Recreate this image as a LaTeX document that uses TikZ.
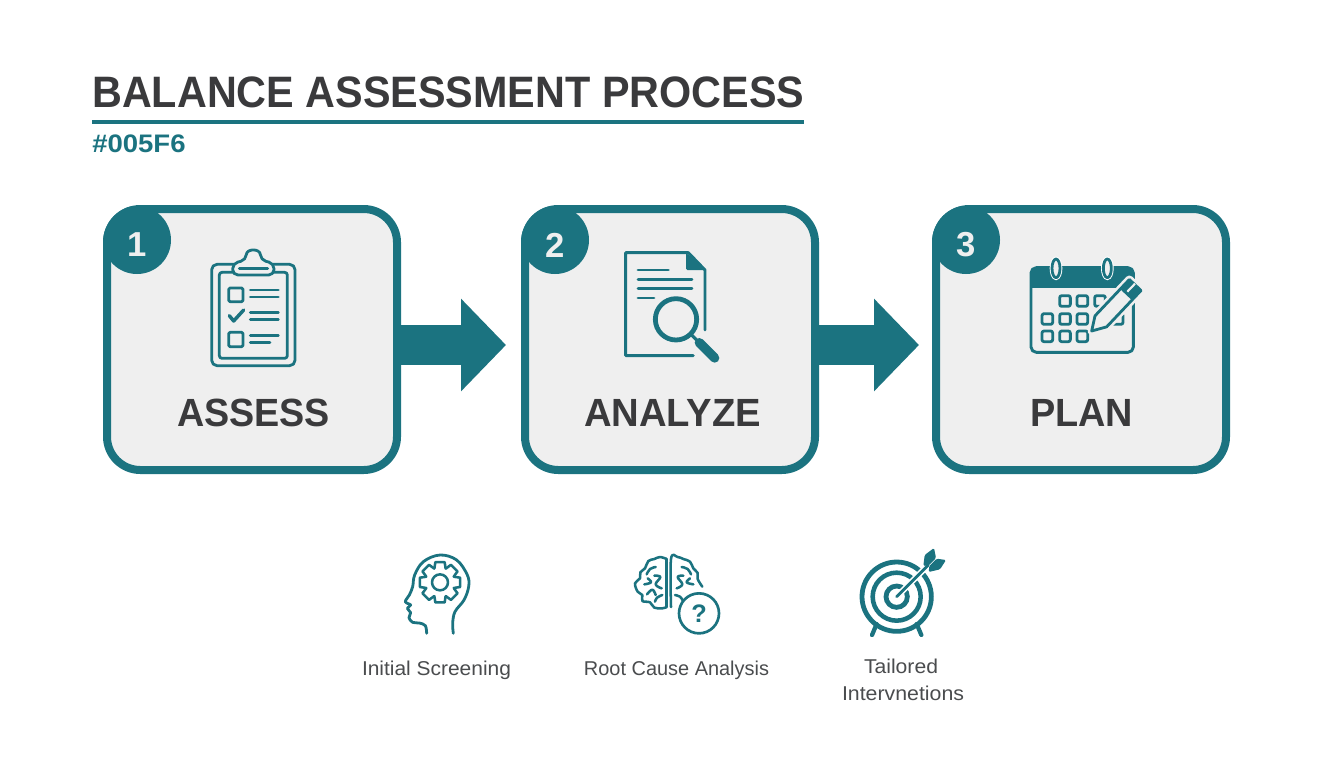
\documentclass[tikz,border=0pt]{standalone}
\usepackage{fontspec}
\setmainfont{Liberation Sans}
\usetikzlibrary{arrows.meta,calc}
\definecolor{tealc}{HTML}{1B7380}
\definecolor{inkc}{HTML}{3A3A3C}
\definecolor{cardc}{HTML}{EFEFEF}
\definecolor{graytext}{HTML}{4A4C4E}
\newcommand{\fit}[2]{\resizebox{#1}{\height}{#2}}
\tikzset{
  cardbox/.style={draw=tealc,fill=cardc,line width=6pt,rounded corners=25pt,minimum width=217.5pt,minimum height=195.75pt,inner sep=0pt},
  badge/.style={circle,fill=tealc,minimum size=51pt,inner sep=0pt},
  badgenum/.style={text=cardc,inner sep=0pt,font=\bfseries\fontsize{26}{26}\selectfont},
  cardlabel/.style={text=inkc,inner sep=0pt,font=\bfseries\fontsize{29.5}{30}\selectfont},
  sublabel/.style={text=graytext,inner sep=0pt,font=\fontsize{15}{16}\selectfont},
  flow/.style={draw=tealc,line width=30pt,-{Triangle[length=33.75pt,width=67.5pt,fill=tealc]}},
  ico/.style={draw=tealc,line width=2.1pt,line cap=round,line join=round},
  thinico/.style={draw=tealc,line width=1.9pt,line cap=round,line join=round},
  zoomed/.style={x=.25pt,y=-.25pt}
}
\begin{document}
\begin{tikzpicture}[x=.75pt,y=-.75pt]
\useasboundingbox[fill=white] (0,0) rectangle (1344,768);

% heading
\node[anchor=west,text=inkc,inner sep=0pt,font=\bfseries\fontsize{33}{34}\selectfont] (title) at (92,92) {\fit{534pt}{BALANCE ASSESSMENT PROCESS}};
\coordinate (ruleL) at (92,122);
\coordinate (ruleR) at (804,122);
\draw[tealc,line width=2.4pt] (ruleL) -- (ruleR);
\node[anchor=west,text=tealc,inner sep=0pt,font=\bfseries\fontsize{19}{20}\selectfont] (code) at (92,144) {\fit{70pt}{\#005F6}};

% cards
\node[cardbox] (box1) at (252,339.5) {};
\node[cardbox] (box2) at (670,339.5) {};
\node[cardbox] (box3) at (1081,339.5) {};

% badges
\begin{scope}
\clip[rounded corners=28pt] (box1.south west) rectangle (box1.north east);
\node[badge] (b1) at (137,240) {};
\end{scope}
\begin{scope}
\clip[rounded corners=28pt] (box2.south west) rectangle (box2.north east);
\node[badge] (b2) at (555,240) {};
\end{scope}
\begin{scope}
\clip[rounded corners=28pt] (box3.south west) rectangle (box3.north east);
\node[badge] (b3) at (966,240) {};
\end{scope}
\node[badgenum] (n1) at (137,245) {1};
\node[badgenum] (n2) at (555,245) {2};
\node[badgenum] (n3) at (966,245) {3};

% card labels
\node[cardlabel] (l1) at (253.5,412.5) {\fit{114.75pt}{ASSESS}};
\node[cardlabel] (l2) at (672.5,412.5) {\fit{132.75pt}{ANALYZE}};
\node[cardlabel] (l3) at (1081.5,412.5) {\fit{77.25pt}{PLAN}};

% flow arrows
\draw[flow,shorten >=11.25pt] ($(box1.east)+(0,5.5)$) -- ($(box2.west)+(0,5.5)$);
\draw[flow,shorten >=9.75pt] ($(box2.east)+(0,5.5)$) -- ($(box3.west)+(0,5.5)$);

% clipboard icon
\begin{scope}[shift={(90,195)},zoomed]
\draw[ico,rounded corners=4pt] (365,208) rectangle (615,512);
\draw[ico,rounded corners=2pt] (388,232) rectangle (592,490);
\draw[ico,fill=cardc,rounded corners=4pt] (428,240) -- (428,205) -- (468,195) .. controls (470,160) and (510,160) .. (512,195) -- (552,205) -- (552,240) -- cycle;
\draw[ico] (448,220) -- (533,220);
\draw[ico,rounded corners=1pt] (416,279) rectangle (459,320);
\draw[ico] (481,285) -- (565,285) (481,306) -- (565,306);
\draw[ico,line width=2.6pt] (418,362) -- (431,378) -- (461,345);
\draw[ico] (481,352) -- (565,352) (481,374) -- (565,374);
\draw[ico,rounded corners=1pt] (416,412) rectangle (459,455);
\draw[ico] (481,422) -- (565,422) (481,443) -- (540,443);
\end{scope}

% document icon
\begin{scope}[shift={(610,240)},zoomed]
\draw[ico,line width=2.2pt] (285,270) -- (285,90) -- (235,38) -- (47,38) -- (47,347) -- (250,347);
\fill[tealc,rounded corners=1pt] (228,38) -- (285,90) -- (228,90) -- cycle;
\draw[ico,line width=2.2pt] (84,90) -- (175,90) (84,118) -- (246,118) (84,146) -- (246,146) (84,174) -- (132,174);
\draw[tealc,line width=3.6pt,fill=cardc] (198,238) circle (62);
\draw[ico,line width=2.4pt] (246,286) -- (262,302);
\draw[ico,line width=7pt] (268,308) -- (314,354);
\end{scope}

% calendar icon
\begin{scope}[shift={(1020,245)},zoomed]
\draw[ico,line width=2.2pt,rounded corners=4pt] (33,68) rectangle (340,322);
\fill[tealc,rounded corners=4pt] (33,68) rectangle (340,128);
\fill[tealc] (33,100) rectangle (340,128);
\foreach \rx in {108,262}{
  \draw[white,line width=3.5pt] (\rx,70) ellipse (12 and 28);
  \draw[ico,fill=cardc] (\rx,70) ellipse (12 and 28);
}
\foreach \cx/\cy in {135/168,187/168,240/168,82/222,135/222,187/222,240/222,293/222,82/274,135/274,187/274}{
  \draw[ico,rounded corners=1.5pt] ($(\cx,\cy)+(-16,-16)$) rectangle ($(\cx,\cy)+(16,16)$);
}
\path[fill=cardc,draw=cardc,line width=6pt,line join=round] (215,258) -- (225,212.5) -- (328,103.5) -- (363,136.5) -- (260,245.5) -- cycle;
\fill[tealc,rounded corners=.5pt] (215,258) -- (221,229) -- (244,251) -- cycle;
\draw[ico,fill=cardc] (215,258) -- (225,212.5) -- (328,103.5) -- (363,136.5) -- (260,245.5) -- cycle;
\fill[tealc,rounded corners=1.5pt] (300.5,132.5) -- (328,103.5) -- (363,136.5) -- (335.5,165.5) -- cycle;
\draw[cardc,line width=1.6pt] (322,140) -- (345,116);
\end{scope}

% head with gear icon
\begin{scope}[shift={(390,545)},zoomed]
\draw[ico] plot[smooth,tension=.6] coordinates {(110,265) (106,242) (88,234) (68,232) (57,218) (62,203) (52,190) (62,180) (46,170) (58,150) (68,125) (74,90) (100,50) (150,30) (200,45) (232,90) (236,125) (222,165) (195,200) (188,235) (190,265)};
\coordinate (gearhub) at (150,112);
\foreach \a in {0,45,...,315}{
  \pgfmathsetmacro{\pa}{\a-22}
  \pgfmathsetmacro{\pb}{\a-13}
  \pgfmathsetmacro{\pc}{\a+13}
  \pgfmathsetmacro{\pd}{\a+22}
  \pgfmathsetmacro{\pe}{\a+23}
  \draw[thinico] ($(gearhub)+({45*cos(\pa)},{45*sin(\pa)})$) -- ($(gearhub)+({62*cos(\pb)},{62*sin(\pb)})$) -- ($(gearhub)+({62*cos(\pc)},{62*sin(\pc)})$) -- ($(gearhub)+({45*cos(\pd)},{45*sin(\pd)})$) -- ($(gearhub)+({45*cos(\pe)},{45*sin(\pe)})$);
}
\draw[thinico] (gearhub) circle (24);
\end{scope}

% brain with question icon
\begin{scope}[shift={(625,545)},zoomed]
\draw[thinico] plot[smooth,tension=.6] coordinates {(125,42) (105,36) (88,42) (70,48) (60,70) (46,82) (45,100) (30,115) (38,140) (52,150) (52,168) (75,172) (88,188) (112,190) (125,186)};
\draw[thinico] (125,42) -- (125,186);
\draw[thinico] plot[smooth,tension=.6] coordinates {(138,186) (138,42) (158,36) (175,42) (195,50) (205,70) (218,84) (218,102) (232,125)};
\draw[thinico] plot[smooth,tension=.7] coordinates {(65,88) (75,72) (92,66)};
\draw[thinico] plot[smooth,tension=.7] coordinates {(58,118) (78,112) (68,100)};
\draw[thinico] plot[smooth,tension=.7] coordinates {(88,92) (106,96) (92,118) (110,130)};
\draw[thinico] plot[smooth,tension=.7] coordinates {(66,148) (82,134) (92,150)};
\draw[thinico] plot[smooth,tension=.7] coordinates {(112,150) (96,158) (90,170)};
\draw[thinico] plot[smooth,tension=.7] coordinates {(198,88) (188,72) (170,66)};
\draw[thinico] plot[smooth,tension=.7] coordinates {(175,92) (158,96) (172,118) (155,130)};
\draw[thinico] plot[smooth,tension=.7] coordinates {(205,118) (185,112) (195,100)};
\draw[thinico] plot[smooth,tension=.7] coordinates {(150,150) (165,155) (172,165)};
\node[circle,draw=tealc,fill=white,line width=2pt,minimum size=30pt,inner sep=0pt,text=tealc,font=\bfseries\fontsize{19}{19}\selectfont] (qmark) at (222,205) {?};
\end{scope}

% target icon
\begin{scope}[shift={(850,540)},zoomed]
\draw[tealc,line width=3.6pt] (140,170) circle (104);
\draw[tealc,line width=3.4pt] (140,170) circle (72);
\draw[tealc,line width=3.6pt] (140,170) circle (32);
\draw[ico,line width=3.2pt] (80,252) -- (66,285) (200,252) -- (214,285);
\draw[white,line width=4.5pt] (150,160) -- (235,75);
\draw[ico,line width=2.2pt] (140,170) -- (235,75);
\fill[tealc,rounded corners=1pt] (220,78) -- (224,45) -- (252,24) -- (258,54) -- (236,76) -- cycle;
\fill[tealc,rounded corners=1pt] (238,78) -- (260,56) -- (288,60) -- (270,88) -- (236,96) -- cycle;
\end{scope}

% captions
\node[sublabel] (c1) at (436.5,670) {\fit{111.75pt}{Initial Screening}};
\node[sublabel] (c2) at (676.5,670) {\fit{138.75pt}{Root Cause Analysis}};
\node[sublabel] (c3a) at (901,666) {\fit{55.5pt}{Tailored}};
\node[sublabel] (c3b) at (903,693) {\fit{91.5pt}{Intervnetions}};
\end{tikzpicture}
\end{document}
